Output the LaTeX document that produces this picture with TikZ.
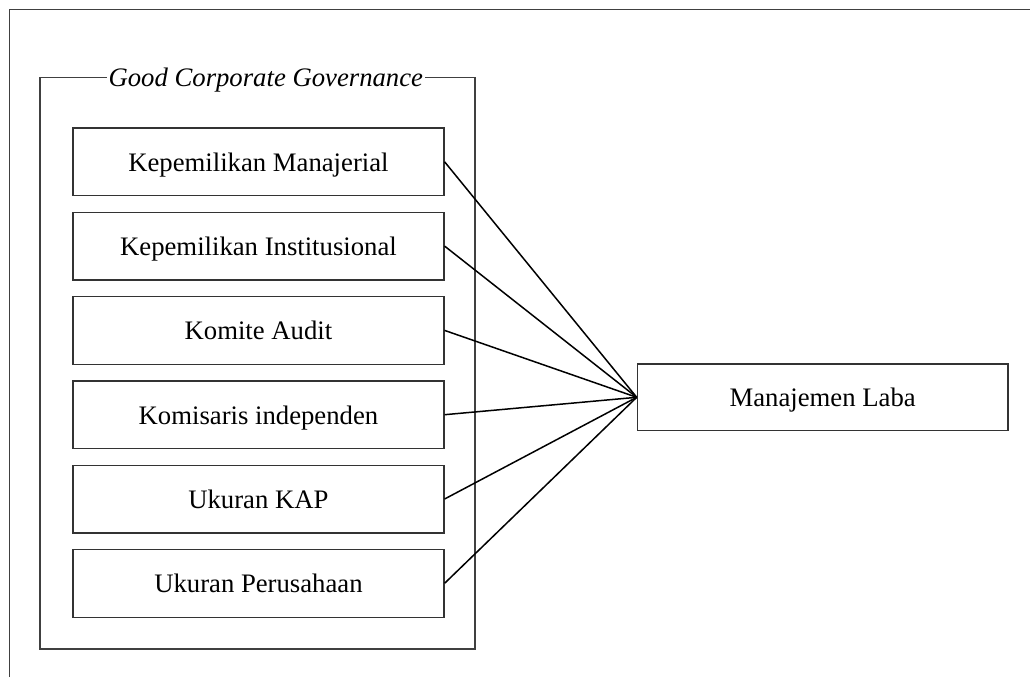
\documentclass[tikz,border=0pt]{standalone}
\usepackage{fontspec}
\setmainfont{Liberation Serif}
\begin{document}
\begin{tikzpicture}[x=1pt,y=-1pt,
  varbox/.style={draw=black!80,line width=1.3pt,minimum width=371pt,minimum height=67.7pt,inner sep=0pt,anchor=north west,text height=18.6pt,text depth=0pt,font=\fontsize{26.7}{31}\selectfont},
  link/.style={line width=1.5pt,black},
  frameline/.style={draw=black!75,line width=1.3pt}]
\useasboundingbox (0,0) rectangle (1030,677);
% outer frame (only top and left visible)
\draw[frameline] (9.5,677) -- (9.5,9.5) -- (1030,9.5);
% group box
\draw[frameline] (40,77.7) rectangle (475,649);
\node[fill=white,inner xsep=1.5pt,inner ysep=2pt,anchor=base,font=\fontsize{26.7}{31}\selectfont\itshape] (title) at (265.8,86) {Good Corporate Governance};
% variable boxes
\node[varbox] (b1) at (72.3,127.3) {Kepemilikan Manajerial};
\node[varbox] (b2) at (72.3,211.6) {Kepemilikan Institusional};
\node[varbox] (b3) at (72.3,295.9) {Komite Audit};
\node[varbox] (b4) at (72.3,380.2) {Komisaris independen};
\node[varbox] (b5) at (72.3,464.5) {Ukuran KAP};
\node[varbox] (b6) at (72.3,548.8) {Ukuran Perusahaan};
% dependent
\node[varbox,minimum width=370.6pt,minimum height=66.7pt] (ml) at (636.7,363.3) {Manajemen Laba};
\foreach \i in {1,...,6} \draw[link] (b\i.east) -- (ml.west);
\end{tikzpicture}
\end{document}
